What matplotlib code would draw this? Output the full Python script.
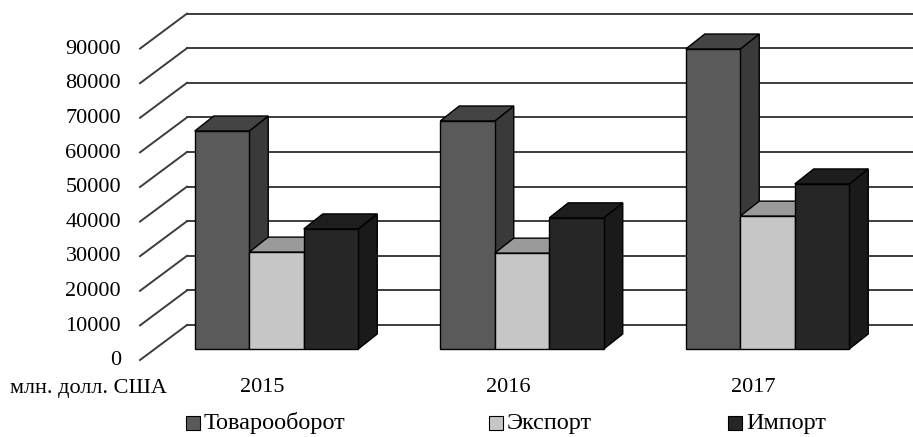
import numpy as np
import matplotlib.pyplot as plt
from matplotlib.patches import Polygon

# данные (млн. долл. США)
years = ['2015', '2016', '2017']
series = ['Товарооборот', 'Экспорт', 'Импорт']
turnover = [63000, 65900, 86700]
export = [28000, 27700, 38400]
imports = [34700, 37900, 47700]
yticks = np.arange(0, 90001, 10000)

values = [turnover, export, imports]
# цвета: передняя грань, верх, бок
colors = [('#5a5a5a', '#444444', '#3a3a3a'),
          ('#c6c6c6', '#9a9a9a', '#8c8c8c'),
          ('#262626', '#1e1e1e', '#1a1a1a')]

W, H = 913, 437
PX_X = 245.5            # пикселей на категорию
PX_Y = 34.6 / 10000     # пикселей на единицу значения
X0, Y0 = 276.5, 349     # центр первой группы и основание столбцов

fig = plt.figure(figsize=(W / 100, H / 100), dpi=100)
ax = fig.add_axes([0, 0, 1, 1])
ax.set_xlim(-X0 / PX_X, (W - X0) / PX_X)
ax.set_ylim(-(H - Y0) / PX_Y, Y0 / PX_Y)
ax.axis('off')

plt.rcParams['font.family'] = ['Liberation Serif', 'DejaVu Serif']
FS = 16


def px(x, y):
    # пиксели -> координаты данных
    return (x - X0) / PX_X, (Y0 - y) / PX_Y


def dpx(dx, dy):
    return dx / PX_X, dy / PX_Y


# сетка: задняя стенка и диагонали
line_c = '#3c3c3c'
wall_x = px(187, 0)[0]
front_x = px(140, 0)[0]
_, wall_dy = dpx(0, 24)
_, front_dy = dpx(0, 11)
right_x = px(W + 5, 0)[0]
for v in yticks:
    ax.plot([wall_x, right_x], [v + wall_dy, v + wall_dy], color=line_c, lw=1.4, zorder=1)
    ax.plot([front_x, wall_x], [v - front_dy, v + wall_dy], color=line_c, lw=1.4, zorder=1)
    ax.text(px(121, 0)[0], v - front_dy - 5000 * 0.04, str(v), ha='right', va='center',
            fontsize=FS)

# столбцы с псевдо-3D
bw = 54.5 / PX_X
ddx, ddy = dpx(19, 15)
z = 2
for i in range(len(years)):
    for j in range(len(series)):
        v = values[j][i]
        l = i + (j - 1.5) * bw
        fc, tc, sc = colors[j]
        front = [(l, 0), (l + bw, 0), (l + bw, v), (l, v)]
        top = [(l, v), (l + bw, v), (l + bw + ddx, v + ddy), (l + ddx, v + ddy)]
        side = [(l + bw, 0), (l + bw + ddx, ddy), (l + bw + ddx, v + ddy), (l + bw, v)]
        for pts, c in ((side, sc), (top, tc), (front, fc)):
            ax.add_patch(Polygon(pts, closed=True, facecolor=c, edgecolor='black',
                                 lw=1.0, joinstyle='miter', zorder=z))
            z += 1

# подписи категорий
ly = px(0, 388)[1]
for i, yr in enumerate(years):
    ax.text(i - 14 / PX_X, ly, yr, ha='center', va='center', fontsize=FS)
ax.text(px(88, 0)[0], ly, 'млн. долл. США', ha='center', va='center', fontsize=FS)

# легенда
leg_x = [186, 489, 728]
for k, name in enumerate(series):
    sx, sy = px(leg_x[k] + 7, 423)
    ax.scatter([sx], [sy], s=100, marker='s', facecolor=colors[k][0],
               edgecolor='black', linewidth=0.8, zorder=50)
    ax.text(px(leg_x[k] + 18, 0)[0], sy, name, ha='left', va='center', fontsize=17.5)

fig.savefig('out.png', dpi=100)
